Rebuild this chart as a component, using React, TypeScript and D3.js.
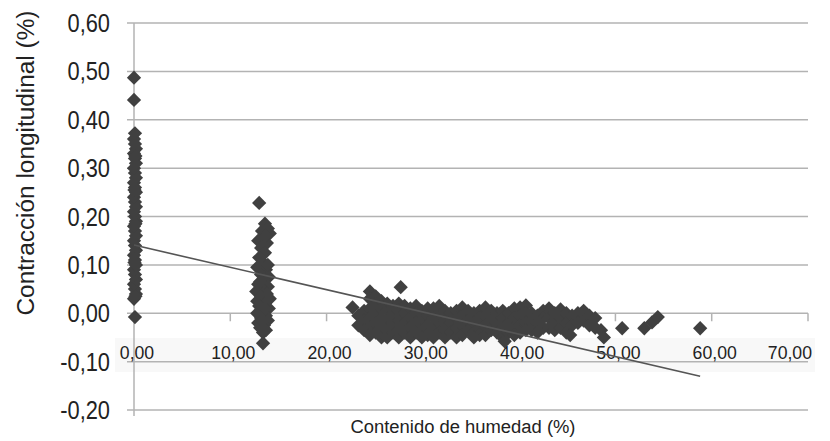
import React from "react";
import * as d3 from "d3";

// Moisture content (%) vs longitudinal shrinkage (%)
const clusterDry: [number, number][] = [
  [0.1, -0.008], [0.0, 0.03], [0.2, 0.04], [0.1, 0.05], [0.0, 0.06], [0.2, 0.07], [0.1, 0.08],
  [0.0, 0.09], [0.2, 0.1], [0.1, 0.11], [0.0, 0.12], [0.2, 0.13], [0.1, 0.14], [0.0, 0.15],
  [0.2, 0.16], [0.1, 0.17], [0.0, 0.18], [0.2, 0.19], [0.1, 0.2], [0.0, 0.21], [0.2, 0.22],
  [0.1, 0.23], [0.0, 0.24], [0.2, 0.25], [0.1, 0.26], [0.0, 0.27], [0.2, 0.28], [0.1, 0.29],
  [0.0, 0.3], [0.2, 0.31], [0.1, 0.32], [0.0, 0.33], [0.2, 0.34], [0.1, 0.35], [0.0, 0.36],
  [0.1, 0.372], [0.0, 0.441], [0.0, 0.487],
  [0.15, 0.035], [0.05, 0.105], [0.15, 0.185], [0.05, 0.255], [0.15, 0.325],
];

const clusterMid: [number, number][] = [
  [13.0, 0.228], [13.6, 0.185], [13.9, 0.175], [13.3, 0.17], [14.1, 0.165], [13.5, 0.155],
  [12.9, 0.15], [13.8, 0.145], [13.2, 0.135], [13.6, 0.125], [13.0, 0.115], [13.4, 0.105],
  [12.8, 0.095], [13.7, 0.09], [13.2, 0.08], [14.0, 0.075], [13.5, 0.07], [12.9, 0.06],
  [13.9, 0.055], [13.3, 0.05], [12.7, 0.045], [13.8, 0.04], [13.2, 0.035], [14.1, 0.03],
  [12.8, 0.025], [13.6, 0.02], [13.0, 0.015], [14.0, 0.01], [13.4, 0.005], [12.8, 0.0],
  [13.7, -0.005], [13.2, -0.01], [13.9, -0.015], [12.9, -0.02], [13.5, -0.025], [13.1, -0.03],
  [13.7, -0.035], [13.4, -0.04], [13.4, -0.062],
  [13.7, 0.16], [13.1, 0.065], [13.6, 0.01], [13.3, -0.015], [13.9, 0.1],
];

const clusterWet: [number, number][] = [
  [22.7, 0.012],
  [23.3, -0.005], [23.3, -0.025],
  [23.9, 0.005], [23.9, -0.015], [23.9, -0.035],
  [24.5, 0.045], [24.5, 0.03], [24.5, 0.01], [24.5, -0.01], [24.5, -0.03], [24.5, -0.045],
  [25.1, 0.035], [25.1, 0.02], [25.1, 0.0], [25.1, -0.02], [25.1, -0.04],
  [25.7, 0.025], [25.7, 0.01], [25.7, -0.01], [25.7, -0.03], [25.7, -0.05],
  [26.3, 0.02], [26.3, 0.005], [26.3, -0.015], [26.3, -0.035], [26.3, -0.05],
  [26.9, 0.015], [26.9, 0.0], [26.9, -0.02], [26.9, -0.04],
  [27.7, 0.054], [27.5, 0.02], [27.5, 0.005], [27.5, -0.015], [27.5, -0.035], [27.5, -0.05],
  [28.1, 0.015], [28.1, 0.0], [28.1, -0.02], [28.1, -0.04],
  [28.7, 0.01], [28.7, -0.01], [28.7, -0.03], [28.7, -0.05],
  [29.3, 0.015], [29.3, 0.0], [29.3, -0.02], [29.3, -0.04],
  [29.9, 0.005], [29.9, -0.015], [29.9, -0.035], [29.9, -0.05],
  [30.5, 0.01], [30.5, -0.005], [30.5, -0.025], [30.5, -0.045],
  [31.1, 0.01], [31.1, -0.01], [31.1, -0.03], [31.1, -0.05],
  [31.7, 0.015], [31.7, 0.0], [31.7, -0.02], [31.7, -0.04],
  [32.3, 0.005], [32.3, -0.015], [32.3, -0.035], [32.3, -0.05],
  [32.9, 0.0], [32.9, -0.02], [32.9, -0.04],
  [33.5, 0.005], [33.5, -0.01], [33.5, -0.03], [33.5, -0.05],
  [34.1, 0.012], [34.1, -0.005], [34.1, -0.025], [34.1, -0.045],
  [34.7, 0.005], [34.7, -0.015], [34.7, -0.035],
  [35.3, 0.0], [35.3, -0.02], [35.3, -0.04], [35.3, -0.05],
  [35.9, 0.005], [35.9, -0.01], [35.9, -0.03], [35.9, -0.045],
  [36.5, 0.012], [36.5, -0.005], [36.5, -0.025], [36.5, -0.045],
  [37.1, 0.005], [37.1, -0.015], [37.1, -0.035],
  [37.7, 0.0], [37.7, -0.02], [37.7, -0.04],
  [38.3, 0.005], [38.3, -0.01], [38.3, -0.03], [38.3, -0.05], [38.5, -0.058],
  [38.9, 0.0], [38.9, -0.02], [38.9, -0.04],
  [39.5, 0.01], [39.5, -0.01], [39.5, -0.03], [39.5, -0.045],
  [40.1, 0.012], [40.1, -0.005], [40.1, -0.025], [40.1, -0.04],
  [40.7, 0.016], [40.7, 0.0], [40.7, -0.02], [40.7, -0.035],
  [41.3, 0.0], [41.3, -0.015], [41.3, -0.035],
  [41.9, -0.005], [41.9, -0.02], [41.9, -0.04],
  [42.5, 0.005], [42.5, -0.01], [42.5, -0.03],
  [43.1, 0.01], [43.1, -0.01], [43.1, -0.03],
  [43.7, 0.0], [43.7, -0.015], [43.7, -0.035],
  [44.3, 0.008], [44.3, -0.01], [44.3, -0.03],
  [44.9, 0.0], [44.9, -0.02], [44.9, -0.04],
  [45.5, -0.005], [45.5, -0.025], [45.3, -0.045],
  [46.1, 0.0], [46.1, -0.02],
  [46.7, 0.005], [46.7, -0.015],
  [47.3, -0.005], [47.3, -0.025],
  [47.9, -0.01], [47.9, -0.03],
  [48.5, -0.035], [48.8, -0.05],
];

const outliers: [number, number][] = [
  [50.7, -0.031], [53.0, -0.031], [53.8, -0.019], [54.4, -0.008], [58.8, -0.031],
];

const xTicks = [0, 10, 20, 30, 40, 50, 60, 70];
const yTicks = [-0.2, -0.1, 0, 0.1, 0.2, 0.3, 0.4, 0.5, 0.6];

const trendIntercept = 0.141;
const trendSlope = -0.00461;
const trendXRange = [0, 58.8];

const xTitle = "Contenido de humedad (%)";
const yTitle = "Contracción longitudinal (%)";

const fmt = (v: number) => v.toFixed(2).replace(".", ",");

export default function App() {
  const W = 830, H = 441;
  const x = d3.scaleLinear().domain([0, 70]).range([134, 808]);
  const y = d3.scaleLinear().domain([-0.2, 0.6]).range([410, 23]);
  const points = [...clusterDry, ...clusterMid, ...clusterWet, ...outliers];
  const diamond = d3.symbol().type(d3.symbolDiamond2).size(130)();
  const font = "'Liberation Sans', Arial, sans-serif";
  const trend = d3.line<number>().x((d) => x(d)).y((d) => y(trendIntercept + trendSlope * d));

  return (
    <svg width={W} height={H} style={{ position: "absolute", left: 0, top: 0, background: "#fff" }}>
      <rect x={115} y={338} width={700} height={34} fill="#f8f8f8" />
      {yTicks.map((t) => (
        <line key={"g" + t} x1={127} x2={808} y1={y(t)} y2={y(t)} stroke="#b3b3b3" strokeWidth={1.5} />
      ))}
      <line x1={x(0)} x2={x(0)} y1={y(0.6)} y2={416} stroke="#b3b3b3" strokeWidth={1.5} />
      {xTicks.slice(1).map((t) => (
        <line key={"t" + t} x1={x(t)} x2={x(t)} y1={y(0)} y2={y(0) + 8} stroke="#b3b3b3" strokeWidth={1.5} />
      ))}
      {yTicks.map((t) => (
        <g key={"yl" + t} transform={`translate(110,${y(t) + 9}) scale(0.84,1)`}>
          <text x={0} y={0} textAnchor="end" fontFamily={font} fontSize={26} fill="#222">
            {fmt(t)}
          </text>
        </g>
      ))}
      {xTicks.map((t) => (
        <g key={"xl" + t} transform={`translate(${t === 70 ? 812 : x(t) + 3},359) scale(0.93,1)`}>
          <text x={0} y={0} textAnchor={t === 70 ? "end" : "middle"} fontFamily={font} fontSize={19} fill="#222">
            {fmt(t)}
          </text>
        </g>
      ))}
      {points.map((p, i) => (
        <path key={"p" + i} d={diamond!} transform={`translate(${x(p[0])},${y(p[1])})`} fill="#404040" />
      ))}
      <path d={trend(trendXRange) || ""} fill="none" stroke="#555" strokeWidth={1.6} />
      <text
        x={463}
        y={433}
        textAnchor="middle"
        fontFamily={font}
        fontSize={18}
        fill="#222"
        textLength={225}
        lengthAdjust="spacingAndGlyphs"
      >
        {xTitle}
      </text>
      <text
        transform={`translate(34,163) rotate(-90)`}
        textAnchor="middle"
        fontFamily={font}
        fontSize={23}
        fill="#222"
        textLength={305}
        lengthAdjust="spacingAndGlyphs"
      >
        {yTitle}
      </text>
    </svg>
  );
}
